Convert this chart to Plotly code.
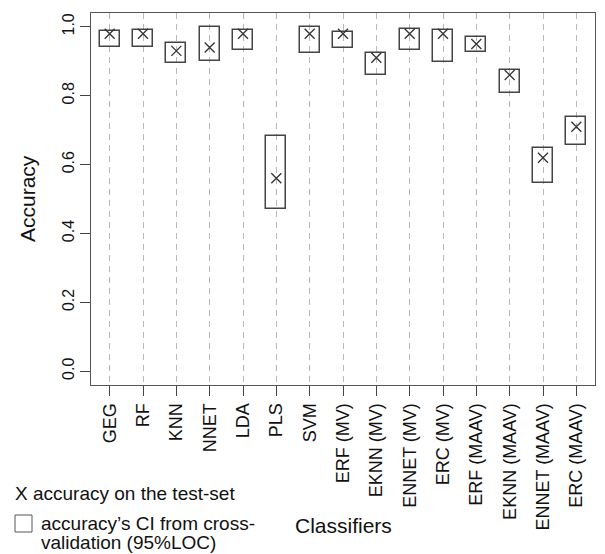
import plotly.graph_objects as go

classifiers = ["GEG", "RF", "KNN", "NNET", "LDA", "PLS", "SVM", "ERF (MV)", "EKNN (MV)",
               "ENNET (MV)", "ERC (MV)", "ERF (MAAV)", "EKNN (MAAV)", "ENNET (MAAV)", "ERC (MAAV)"]
test_accuracy = [0.98, 0.98, 0.93, 0.94, 0.98, 0.56, 0.98, 0.98, 0.91, 0.98, 0.98, 0.95, 0.86, 0.62, 0.71]
ci_lower = [0.940, 0.940, 0.895, 0.900, 0.933, 0.471, 0.923, 0.937, 0.861, 0.932, 0.899, 0.927, 0.808, 0.547, 0.657]
ci_upper = [0.988, 0.991, 0.954, 1.000, 0.991, 0.684, 0.998, 0.984, 0.923, 0.993, 0.990, 0.969, 0.874, 0.648, 0.739]
y_ticks = [0.0, 0.2, 0.4, 0.6, 0.8, 1.0]
y_tick_labels = ["0.0", "0.2", "0.4", "0.6", "0.8", "1.0"]

FONT = "Liberation Sans, Arial, Helvetica, sans-serif"
# the page body has an 8px margin; lay out in page pixels and compensate
OFF = 8
PAGE_W, PAGE_H = 605, 554
W, H = PAGE_W - OFF, PAGE_H - OFF
# plot area in page pixels
P_LEFT, P_RIGHT, P_TOP, P_BOTTOM = 91, 595, 13, 385
L, R, T, B = P_LEFT - OFF, W - (P_RIGHT - OFF), P_TOP - OFF, H - (P_BOTTOM - OFF)
pw, ph = P_RIGHT - P_LEFT, P_BOTTOM - P_TOP


def px(x):
    return (x - P_LEFT) / pw


def py(y):
    return (P_BOTTOM - y) / ph


fig = go.Figure()
fig.add_trace(go.Bar(
    x=classifiers,
    y=[u - l for u, l in zip(ci_upper, ci_lower)],
    base=ci_lower,
    width=0.6,
    marker=dict(color="rgba(0,0,0,0)", line=dict(color="#444444", width=1.5)),
    hoverinfo="skip",
))
fig.add_trace(go.Scatter(
    x=classifiers,
    y=test_accuracy,
    mode="markers",
    marker=dict(symbol="x-thin", size=10, line=dict(width=1.3, color="#333333")),
))

fig.update_layout(
    width=W, height=H,
    margin=dict(l=L, r=R, t=T, b=B, pad=0),
    plot_bgcolor="white", paper_bgcolor="white",
    showlegend=False,
    font=dict(family=FONT, color="#111111"),
    xaxis=dict(
        range=[-0.56, 14.56],
        tickangle=-90,
        ticks="outside", ticklen=10, tickcolor="#444444", tickwidth=1,
        tickfont=dict(size=18, family=FONT, color="#111111"),
        showline=True, mirror=True, linecolor="#555555", linewidth=1,
        showgrid=True, gridcolor="#b8b8b8", griddash="6px,5px", gridwidth=1,
        zeroline=False, automargin=False,
    ),
    yaxis=dict(
        range=[-0.04, 1.04],
        tickvals=y_ticks, ticktext=y_tick_labels,
        tickangle=-90,
        ticks="outside", ticklen=10, tickcolor="#444444", tickwidth=1,
        tickfont=dict(size=16, family=FONT, color="#111111"),
        showline=True, mirror=True, linecolor="#555555", linewidth=1,
        showgrid=False, zeroline=False, automargin=False,
    ),
    bargap=0,
)

fig.add_annotation(text="Accuracy", xref="paper", yref="paper", x=px(27), y=0.5,
                   xanchor="center", yanchor="middle", textangle=-90, showarrow=False,
                   font=dict(size=21, family=FONT, color="#111111"))
fig.add_annotation(text="Classifiers", xref="paper", yref="paper", x=0.5, y=py(525),
                   xanchor="center", yanchor="middle", showarrow=False,
                   font=dict(size=21, family=FONT, color="#111111"))
fig.add_annotation(text="X accuracy on the test-set", xref="paper", yref="paper", x=px(13), y=py(493),
                   xanchor="left", yanchor="middle", showarrow=False,
                   font=dict(size=19, family=FONT, color="#111111"))
fig.add_annotation(text="accuracy\u2019s CI from cross-", xref="paper", yref="paper", x=px(39), y=py(523),
                   xanchor="left", yanchor="middle", showarrow=False,
                   font=dict(size=19, family=FONT, color="#111111"))
fig.add_annotation(text="validation (95%LOC)", xref="paper", yref="paper", x=px(39), y=py(542),
                   xanchor="left", yanchor="middle", showarrow=False,
                   font=dict(size=19, family=FONT, color="#111111"))
fig.add_shape(type="rect", xref="paper", yref="paper",
              x0=px(15), x1=px(32), y0=py(532), y1=py(515),
              line=dict(color="#555555", width=1), fillcolor="rgba(0,0,0,0)")

fig.write_html("out.html")
